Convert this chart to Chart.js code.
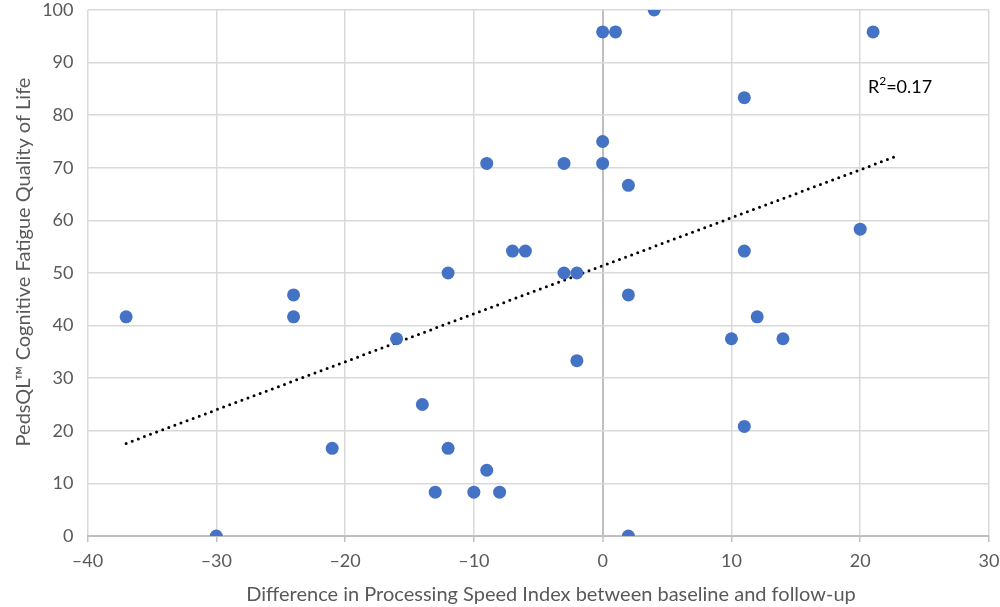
<!DOCTYPE html>
<html><head><meta charset="utf-8">
<script src="https://cdn.jsdelivr.net/npm/chart.js@4"></script>
<style>html,body{margin:0;padding:0;background:#fff}#wrap{width:1000px;height:607px;position:relative}</style>
</head><body><div id="wrap"><canvas id="c"></canvas></div>
<script>
const xValues = [-37, -30, -24, -24, -21, -16, -14, -13, -12, -12, -10, -9, -9, -8, -7, -6, -3, -3, -2, -2, 0, 0, 0, 1, 2, 2, 2, 4, 10, 11, 11, 11, 12, 14, 20, 21];
const yValues = [41.67, 0, 45.83, 41.67, 16.67, 37.5, 25, 8.33, 50, 16.67, 8.33, 70.83, 12.5, 8.33, 54.17, 54.17, 70.83, 50, 50, 33.33, 95.83, 75, 70.83, 95.83, 66.67, 45.83, 0, 100, 37.5, 83.33, 54.17, 20.83, 41.67, 37.5, 58.33, 95.83];
const trendX = [-37, 22.7];
const trendY = [17.6, 72.1];
const xTickValues = [-40, -30, -20, -10, 0, 10, 20, 30];
const yTickValues = [0, 10, 20, 30, 40, 50, 60, 70, 80, 90, 100];
const r2Text = ['R', '2', '=0.17'];
const r2Pos = [20.6, 85.3];
const xTitle = 'Difference in Processing Speed Index between baseline and follow-up';
const yTitle = 'PedsQL\u2122 Cognitive Fatigue Quality of Life';

const FONT = "Lato, 'Open Sans', sans-serif";
const points = xValues.map((x, i) => ({x, y: yValues[i]}));
const trend = trendX.map((x, i) => ({x, y: trendY[i]}));

const textPlugin = {
  id: 'texts',
  afterDatasetsDraw(chart) {
    const ctx = chart.ctx;
    const xs = chart.scales.x, ys = chart.scales.y;
    let px = xs.getPixelForValue(r2Pos[0]);
    const py = ys.getPixelForValue(r2Pos[1]);
    ctx.save();
    ctx.fillStyle = '#000';
    ctx.textBaseline = 'middle';
    ctx.textAlign = 'left';
    ctx.font = "18px " + FONT;
    ctx.fillText(r2Text[0], px, py);
    px += ctx.measureText(r2Text[0]).width;
    ctx.font = "12px " + FONT;
    ctx.fillText(r2Text[1], px, py - 6);
    px += ctx.measureText(r2Text[1]).width;
    ctx.font = "18px " + FONT;
    ctx.fillText(r2Text[2], px, py);
    ctx.restore();
  },
  afterDraw(chart) {
    const ctx = chart.ctx;
    ctx.save();
    ctx.fillStyle = '#595959';
    ctx.font = "20px " + FONT;
    ctx.textAlign = 'center';
    ctx.textBaseline = 'middle';
    ctx.fillText(xTitle, 551, 595);
    ctx.translate(24, 262);
    ctx.rotate(-Math.PI / 2);
    ctx.fillText(yTitle, 0, 0);
    ctx.restore();
  }
};

new Chart(document.getElementById('c'), {
  type: 'scatter',
  data: {
    datasets: [
      {data: trend, type: 'line', showLine: true, borderColor: '#000', borderWidth: 3, borderDash: [0, 6.5], borderCapStyle: 'round', pointRadius: 0, fill: false, order: 2},
      {data: points, backgroundColor: '#4472C4', borderColor: '#4472C4', pointRadius: 6.5, pointHoverRadius: 6.5, borderWidth: 0, order: 1}
    ]
  },
  options: {
    responsive: true,
    maintainAspectRatio: false,
    animation: false,
    events: [],
    layout: {padding: {top: 10, right: 11, left: 0, bottom: 0}},
    plugins: {legend: {display: false}, tooltip: {enabled: false}},
    scales: {
      x: {
        type: 'linear', min: -40, max: 30,
        afterBuildTicks(s) { s.ticks = xTickValues.map(v => ({value: v})); },
        afterFit(s) { s.height = 71; s.paddingLeft = 0; s.paddingRight = 0; },
        grid: {
          color: c => c.tick && c.tick.value === 0 ? '#bfbfbf' : '#d9d9d9',
          lineWidth: c => c.tick && c.tick.value === 0 ? 2 : 1.5,
          tickLength: 6, tickColor: '#bfbfbf', tickWidth: 1.5, drawTicks: true
        },
        border: {display: true, color: '#bfbfbf', width: 2},
        ticks: {color: '#595959', font: {family: FONT, size: 18}, padding: 8,
          callback: v => String(v).replace('-', '\u2013'), maxRotation: 0},
        title: {display: false}
      },
      y: {
        type: 'linear', min: 0, max: 100,
        afterBuildTicks(s) { s.ticks = yTickValues.map(v => ({value: v})); },
        afterFit(s) { s.width = 87.5; s.paddingTop = 0; s.paddingBottom = 0; },
        grid: {
          color: c => c.tick && c.tick.value === 0 ? '#bfbfbf' : '#d9d9d9',
          lineWidth: 1.5, drawTicks: false
        },
        border: {display: false},
        ticks: {color: '#595959', font: {family: FONT, size: 18}, padding: 14},
        title: {display: false}
      }
    }
  },
  plugins: [textPlugin]
});
</script>
</body></html>
